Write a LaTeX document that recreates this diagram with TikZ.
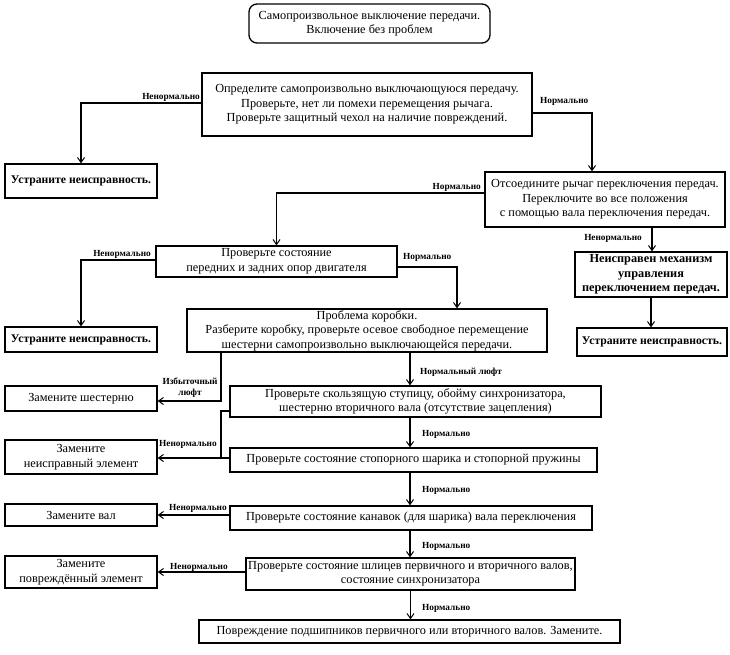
\documentclass[tikz,border=0pt]{standalone}
\usepackage{fontspec}
\setmainfont{Liberation Serif}
\usetikzlibrary{arrows.meta,calc}
\begin{document}
\begin{tikzpicture}[x=1pt,y=-1pt,
  box/.style={draw,line width=1.3pt,inner sep=0pt,align=center,font=\fontsize{12.3}{14.5}\selectfont},
  bbox/.style={box,font=\fontsize{11.7}{14}\selectfont\bfseries},
  arr/.style={line width=1.1pt,-{Straight Barb[length=5pt,width=7pt,line width=1pt]}},
  ln/.style={line width=1.1pt},
  lbl/.style={inner sep=0pt,font=\fontsize{9.3}{11}\selectfont\bfseries,align=center}]
\useasboundingbox (0,0) rectangle (730,654);
% nodes
\node[box,rounded corners=8pt,minimum width=241pt,minimum height=39pt] (t) at (369.5,23.5) {Самопроизвольное выключение передачи.\\Включение без проблем};
\node[box,minimum width=330pt,minimum height=63pt] (b2) at (367,104.5) {Определите самопроизвольно выключающуюся передачу.\\Проверьте, нет ли помехи перемещения рычага.\\Проверьте защитный чехол на наличие повреждений.};
\node[bbox,minimum width=152pt,minimum height=34pt] (b3) at (81,181) {Устраните неисправность.};
\node[box,minimum width=240pt,minimum height=55pt] (b4) at (605,199.5) {Отсоедините рычаг переключения передач.\\Переключите во все положения\\с помощью вала переключения передач.};
\node[box,minimum width=241pt,minimum height=31pt] (b5) at (276.5,261.5) {Проверьте состояние\\передних и задних опор двигателя};
\node[bbox,font=\fontsize{12.3}{14.5}\selectfont\bfseries,minimum width=152pt,minimum height=45pt] (b6) at (651,274.5) {Неисправен механизм\\управления\\переключением передач.};
\node[bbox,minimum width=150pt,minimum height=28pt] (b7) at (652,342) {Устраните неисправность.};
\node[bbox,minimum width=152pt,minimum height=25pt] (b8) at (81,339.5) {Устраните неисправность.};
\node[box,minimum width=360pt,minimum height=43pt] (b9) at (367,330.5) {Проблема коробки.\\Разберите коробку, проверьте осевое свободное перемещение\\шестерни самопроизвольно выключающейся передачи.};
\node[box,minimum width=152pt,minimum height=25pt] (g1) at (81,398.5) {Замените шестерню};
\node[box,minimum width=371pt,minimum height=31pt] (b10) at (415.5,401.5) {Проверьте скользящую ступицу, обойму синхронизатора,\\шестерню вторичного вала (отсутствие зацепления)};
\node[box,minimum width=152pt,minimum height=34pt] (g2) at (81,457) {Замените\\неисправный элемент};
\node[box,minimum width=367pt,minimum height=24pt] (b11) at (413.5,460) {Проверьте состояние стопорного шарика и стопорной пружины};
\node[box,minimum width=152pt,minimum height=22pt] (g3) at (81,515) {Замените вал};
\node[box,minimum width=362pt,minimum height=24pt] (b13) at (411,518) {Проверьте состояние канавок (для шарика) вала переключения};
\node[box,minimum width=152pt,minimum height=32pt] (g4) at (81,572) {Замените\\повреждённый элемент};
\node[box,minimum width=329pt,minimum height=32pt] (b14) at (410.5,574) {Проверьте состояние шлицев первичного и вторичного валов,\\состояние синхронизатора};
\node[box,minimum width=421pt,minimum height=23pt] (b15) at (409.5,631.5) {Повреждение подшипников первичного или вторичного валов. Замените.};
\coordinate (j1) at (221,458);
% connectors
\draw[arr] ([yshift=1.5pt]b2.west) -| (b3.north);
\draw[arr] ([yshift=-8.5pt]b2.east) -| ([xshift=-13pt]b4.north);
\draw[arr] ([yshift=6.5pt]b4.west) -| (b5.north);
\draw[arr] ([xshift=47pt]b4.south) -- ([xshift=47pt]b4.south |- b6.north);
\draw[arr] (b6.south) -- (b6.south |- b7.north);
\draw[arr] ([yshift=1.5pt]b5.west) -| (b8.north);
\draw[arr] ([yshift=-5.5pt]b5.east) -| ([xshift=90pt]b9.north);
\draw[arr] ([xshift=-146pt]b9.south) |- ([yshift=-2.5pt]g1.east);
\draw[arr] ([xshift=43pt]b9.south) -- ([xshift=43pt]b9.south |- b10.north);
\draw[ln] ([yshift=-9.5pt]b10.west) -| (j1);
\draw[arr] ([yshift=2pt]b11.west) -- ([yshift=2pt]b11.west -| g2.east);
\draw[arr] ([xshift=-5.5pt]b10.south) -- ([xshift=-5.5pt]b10.south |- b11.north);
\draw[arr] ([xshift=-3.5pt]b11.south) -- ([xshift=-3.5pt]b11.south |- b13.north);
\draw[arr] ([yshift=3pt]b13.west) -- ([yshift=3pt]b13.west -| g3.east);
\draw[arr] ([xshift=-1pt]b13.south) -- ([xshift=-1pt]b13.south |- b14.north);
\draw[arr] ([yshift=2pt]b14.west) -- ([yshift=2pt]b14.west -| g4.east);
\draw[arr] (b14.south) -- (b14.south |- b15.north);
% labels
\node[lbl,anchor=east] (l1) at (200,97) {Ненормально};
\node[lbl,anchor=west] (l2) at (540,101) {Нормально};
\node[lbl,anchor=east] (l3) at (481,187) {Нормально};
\node[lbl,anchor=east] (l4) at (642,238) {Ненормально};
\node[lbl,anchor=east] (l5) at (151,254) {Ненормально};
\node[lbl,anchor=west] (l6) at (403,257) {Нормально};
\node[lbl] (l7) at (190,388) {Избыточный\\люфт};
\node[lbl,anchor=west] (l8) at (420,372) {Нормальный люфт};
\node[lbl,anchor=west] (l9) at (159,444) {Ненормально};
\node[lbl,anchor=west] (l10) at (422,434) {Нормально};
\node[lbl,anchor=west] (l11) at (422,490) {Нормально};
\node[lbl,anchor=west] (l12) at (169,508) {Ненормально};
\node[lbl,anchor=west] (l13) at (422,546) {Нормально};
\node[lbl,anchor=west] (l14) at (170,567) {Ненормально};
\node[lbl,anchor=west] (l15) at (422,608) {Нормально};
\end{tikzpicture}
\end{document}
